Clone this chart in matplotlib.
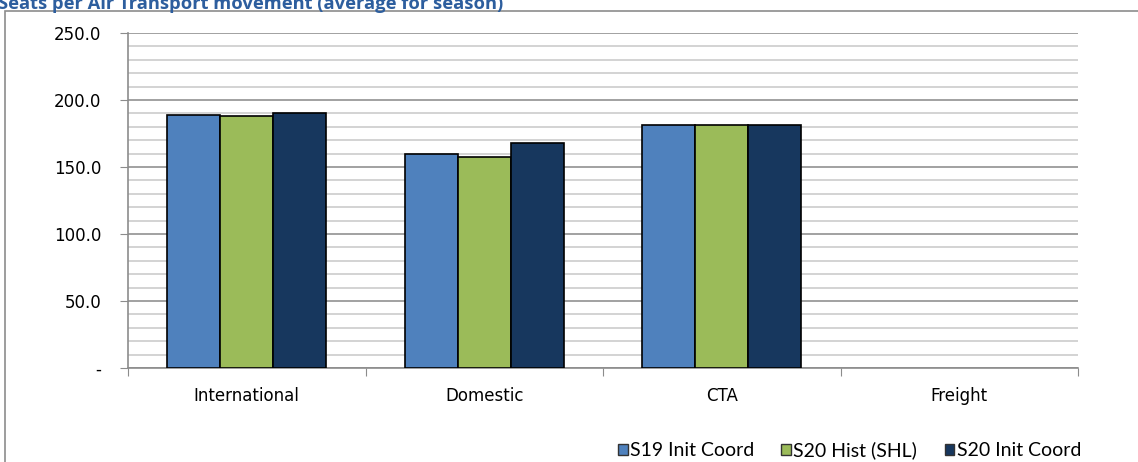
import numpy as np
import matplotlib
matplotlib.use("Agg")
import matplotlib.pyplot as plt
from matplotlib.patches import Rectangle, Patch
from matplotlib.ticker import MultipleLocator, FuncFormatter

#%% data
categories = ['International', 'Domestic', 'CTA', 'Freight']
series_names = ['S19 Init Coord', 'S20 Hist (SHL)', 'S20 Init Coord']
s19_init = [188.8, 159.4, 181.4, np.nan]
s20_hist = [188.1, 157.7, 181.6, np.nan]
s20_init = [190.5, 168.2, 181.5, np.nan]
title = 'Seats per Air Transport movement (average for season)'

colors = ['#4F81BD', '#9BBB59', '#17375E']

#%% figure
W, H = 1138, 462
fig = plt.figure(figsize=(W / 100, H / 100), dpi=100)

# outer chart border (cut off at right/bottom like the screenshot)
fig.patches.append(Rectangle((5 / W, -0.05), 1.2, 1 - 11 / H + 0.05,
                             transform=fig.transFigure, fill=False,
                             edgecolor='#8C8C8C', linewidth=1.2))

fig.text(-2 / W, 1 - 9 / H, title, color='#2D5E9E', fontsize=13.2,
         fontweight='bold', family='Open Sans', ha='left', va='baseline')

ax = fig.add_axes([128 / W, (H - 368) / H, 950 / W, 335 / H])

x = np.arange(len(categories))
bw = 0.223
for i, (vals, name) in enumerate(zip([s19_init, s20_hist, s20_init], series_names)):
    ax.bar(x + (i - 1) * bw, vals, width=bw, color=colors[i],
           edgecolor='black', linewidth=1.2, label=name, zorder=3)

ax.set_xlim(-0.5, len(categories) - 0.5)
ax.set_ylim(0, 250)
ax.yaxis.set_major_locator(MultipleLocator(50))
ax.yaxis.set_minor_locator(MultipleLocator(10))
ax.yaxis.set_major_formatter(FuncFormatter(lambda v, p: '-' if v == 0 else f'{v:.1f}'))
ax.grid(axis='y', which='major', color='#9A9A9A', linewidth=1.3, zorder=0)
ax.grid(axis='y', which='minor', color='#CCCCCC', linewidth=1.2, zorder=0)
ax.tick_params(axis='y', which='minor', length=0)
ax.tick_params(axis='y', which='major', length=6, color='#8C8C8C', labelsize=12, pad=13)

# category ticks at boundaries, labels in the middle
ax.set_xticks(np.arange(len(categories) + 1) - 0.5)
ax.set_xticklabels([])
ax.set_xticks(x, minor=True)
ax.set_xticklabels(categories, minor=True, fontsize=12)
ax.tick_params(axis='x', which='major', length=6, color='#8C8C8C')
ax.tick_params(axis='x', which='minor', length=0, pad=14)

for s in ['top', 'right']:
    ax.spines[s].set_visible(False)
for s in ['left', 'bottom']:
    ax.spines[s].set_color('#8C8C8C')
    ax.spines[s].set_linewidth(1.2)

handles = [Patch(facecolor=c, edgecolor='#333333', linewidth=1) for c in colors]
fig.legend(handles, series_names, loc='center right', ncol=3,
           bbox_to_anchor=(1081 / W, 1 - 450 / H), frameon=False,
           prop={'family': 'Lato', 'size': 14},
           handlelength=0.5, handleheight=0.5, handletextpad=0.12,
           columnspacing=1.4, borderpad=0, borderaxespad=0)

fig.savefig('out.png', dpi=100)
